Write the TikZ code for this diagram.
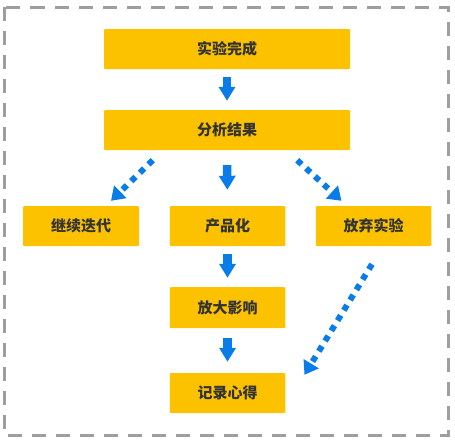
\documentclass[tikz,border=0pt]{standalone}
\usepackage{fontspec}
\newfontfamily\cjk{Noto Sans CJK SC}
\usetikzlibrary{arrows.meta}
\definecolor{boxyellow}{RGB}{252,194,0}
\definecolor{flowblue}{RGB}{8,124,232}
\definecolor{textdark}{RGB}{51,51,51}
\definecolor{framegray}{RGB}{158,158,158}
\tikzset{
  stepbox/.style={fill=boxyellow, rounded corners=1pt, inner sep=0pt, minimum height=40pt, text=textdark, font=\cjk\bfseries\fontsize{15}{15}\selectfont},
  flow/.style={draw=flowblue, line width=8.5pt, -{Triangle[width=16pt,length=14pt]}, flowblue},
  dotflow/.style={draw=flowblue, line width=6pt, dash pattern=on 6pt off 6pt, -{Triangle[width=17pt,length=13pt]}, flowblue}
}
\begin{document}
\begin{tikzpicture}[x=1pt,y=-1pt]
    \useasboundingbox (0,0) rectangle (455,442);
    \draw[framegray, line width=3pt, dash pattern=on 14pt off 10pt] (4.5,7) rectangle (448,435.5);
    \def\W{246pt}
    \def\w{115.5pt}
    \node[stepbox, minimum width=\W] (done) at (227,49) {实验完成};
    \node[stepbox, minimum width=\W] (analyse) at (227,130) {分析结果};
    \node[stepbox, minimum width=116pt] (iter) at (81,226) {继续迭代};
    \node[stepbox, minimum width=\w] (prod) at (227.5,226) {产品化};
    \node[stepbox, minimum width=\w] (drop) at (373.5,226) {放弃实验};
    \node[stepbox, minimum width=\w, minimum height=41pt] (amplify) at (227.5,307.5) {放大影响};
    \node[stepbox, minimum width=\w] (record) at (227.5,393) {记录心得};
    \foreach \a/\b/\s/\e in {done/analyse/8/9, analyse/prod/15/16, prod/amplify/8/9, amplify/record/10/11}
    {
    \draw[flow, shorten <=\s pt, shorten >=\e pt] (\a.south) -- (\b.north);
    }
    \draw[dotflow] ([xshift=49pt,yshift=-10pt]analyse.south west) -- ([xshift=30pt,yshift=5pt]iter.north);
    \draw[dotflow] ([xshift=-53pt,yshift=-10pt]analyse.south east) -- ([xshift=-32pt,yshift=5pt]drop.north);
    \draw[dotflow] ([xshift=-1.5pt,yshift=-18pt]drop.south) -- ([xshift=19pt,yshift=-2pt]record.north east);
\end{tikzpicture}
\end{document}
